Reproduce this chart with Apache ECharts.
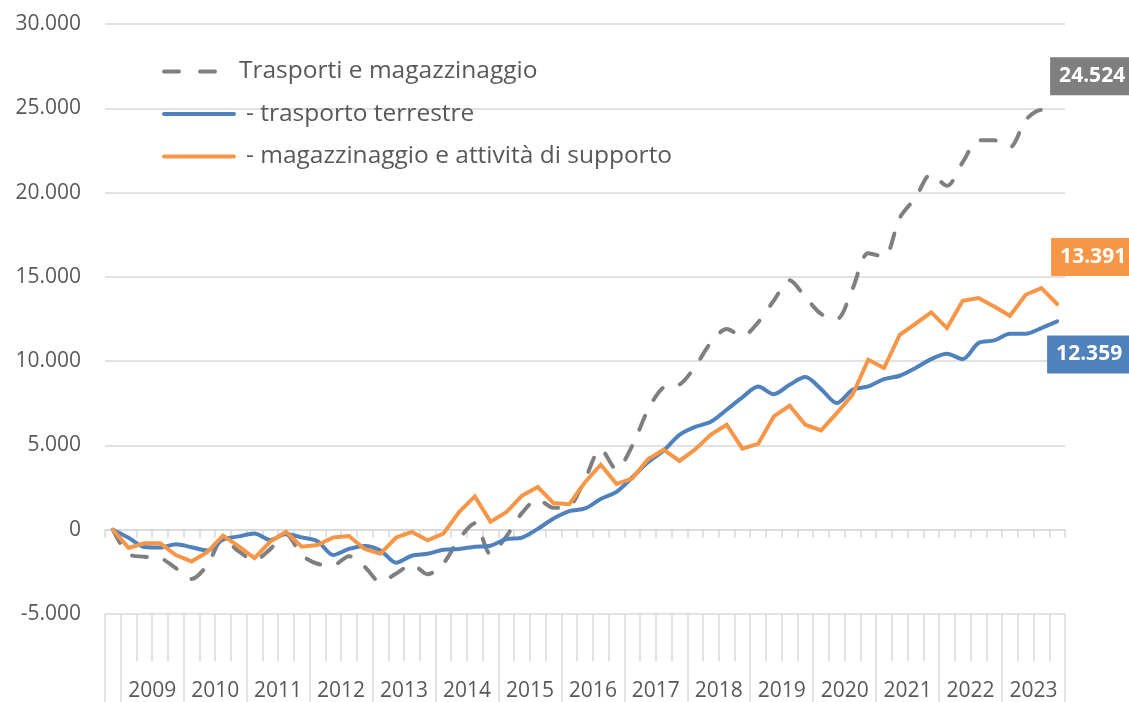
<!DOCTYPE html>
<html>
<head>
<meta charset="utf-8">
<script src="https://cdn.jsdelivr.net/npm/echarts@6/dist/echarts.min.js"></script>
<style>
html,body{margin:0;padding:0;background:#fff;}
#chart{width:1129px;height:702px;}
</style>
</head>
<body>
<div id="chart"></div>
<script>
// ---- data ----
const years = ['2009','2010','2011','2012','2013','2014','2015','2016','2017','2018','2019','2020','2021','2022','2023'];
const quarters = ['I','II','III','IV'];
const categories = ['IV 2008'];
years.forEach(function (y) { quarters.forEach(function (q) { categories.push(q + ' ' + y); }); });

const seriesNames = ['Trasporti e magazzinaggio', '- trasporto terrestre', '- magazzinaggio e attività di supporto'];

const trasporti = [0,-1450,-1600,-1680,-2280,-2920,-2100,-550,-1290,-1800,-1150,-270,-1500,-2020,-2100,-1570,-2200,-3100,-2600,-2076,-2640,-2000,-550,380,-1450,-400,1000,1800,1300,1400,3000,4780,3580,4980,7100,8450,8600,9680,11100,11900,11500,12300,13600,14800,13800,12800,12500,14300,16400,16200,18500,19700,21100,20400,21800,23100,23100,22700,24300,24900,24524];
const terrestre = [0,-480,-1030,-1060,-860,-1040,-1230,-590,-395,-220,-610,-260,-455,-680,-1500,-1140,-960,-1230,-1960,-1542,-1430,-1186,-1140,-1010,-949,-553,-465,50,660,1100,1260,1820,2240,3100,4000,4700,5630,6100,6400,7117,7850,8500,8040,8600,9055,8342,7513,8303,8500,8935,9133,9588,10122,10438,10122,11072,11230,11625,11625,11961,12359];
const magazzinaggio = [0,-1080,-810,-810,-1500,-1880,-1325,-345,-990,-1680,-710,-120,-1010,-910,-455,-375,-1140,-1420,-465,-130,-633,-237,1050,1977,470,1040,2017,2530,1581,1510,2820,3855,2720,3035,4180,4745,4080,4765,5650,6228,4810,5090,6721,7355,6228,5892,6919,8007,10083,9588,11565,12218,12890,11961,13582,13740,13246,12692,13938,14333,13391];

const yMin = -5000, yMax = 30000, yStep = 5000;

// ---- helpers ----
function fmt(v) {
  const s = String(Math.abs(v)).replace(/\B(?=(\d{3})+(?!\d))/g, '.');
  return (v < 0 ? '-' : '') + s;
}
const FONT = '"Open Sans", "Liberation Sans", sans-serif';
const GRID_COLOR = '#d9d9d9';
const TEXT_COLOR = '#595959';
const COLORS = ['#7f7f7f', '#4f81bd', '#f79646'];

function endMark(values, color, offset) {
  const last = values.length - 1;
  return {
    symbol: 'rect',
    symbolSize: 1,
    silent: true,
    itemStyle: { color: 'rgba(0,0,0,0)' },
    label: {
      show: true,
      position: 'inside',
      offset: offset,
      formatter: function (p) { return fmt(p.value); },
      backgroundColor: color,
      color: '#fff',
      fontWeight: 'bold',
      fontFamily: FONT,
      fontSize: 21,
      lineHeight: 26,
      padding: [6, 9, 6, 9]
    },
    data: [{ coord: [last, values[last]], value: values[last] }]
  };
}

const chart = echarts.init(document.getElementById('chart'), null, { renderer: 'canvas' });
const bandW = 960 / categories.length;

chart.setOption({
  animation: false,
  backgroundColor: '#fff',
  color: COLORS,
  textStyle: { fontFamily: FONT },
  grid: { left: 105, right: 64, top: 24, bottom: 88, containLabel: false },
  legend: {
    orient: 'vertical',
    left: 162,
    top: 59,
    padding: 0,
    itemWidth: 70,
    itemHeight: 20,
    itemGap: 17.5,
    itemStyle: { opacity: 0 },
    lineStyle: { width: 4, cap: 'round' },
    textStyle: { color: TEXT_COLOR, fontSize: 24.5, fontFamily: FONT, lineHeight: 20 },
    data: [
      { name: seriesNames[0], lineStyle: { width: 4, type: [15, 21], cap: 'round' } },
      { name: seriesNames[1], textStyle: { padding: [0, 0, 0, 7] } },
      { name: seriesNames[2], textStyle: { padding: [0, 0, 0, 7] } }
    ]
  },
  xAxis: [
    {
      type: 'category',
      data: categories,
      boundaryGap: true,
      axisLine: { show: true, onZero: true, lineStyle: { color: GRID_COLOR, width: 1.5 } },
      axisTick: { show: true, interval: 0, length: 8, lineStyle: { color: GRID_COLOR, width: 1.5 } },
      axisLabel: { show: false },
      splitLine: { show: false }
    },
    {
      type: 'category',
      data: categories,
      boundaryGap: true,
      position: 'bottom',
      axisLine: { show: false, onZero: false },
      axisTick: { show: true, interval: 0, length: 47, lineStyle: { color: GRID_COLOR, width: 1.5 } },
      axisLabel: { show: false },
      splitLine: { show: false }
    },
    {
      type: 'category',
      data: categories,
      boundaryGap: true,
      position: 'bottom',
      axisLine: { show: false, onZero: false },
      axisTick: {
        show: true,
        interval: function (i) { return i === 0 || i % 4 === 1; },
        length: 90,
        lineStyle: { color: GRID_COLOR, width: 1.5 }
      },
      axisLabel: {
        show: true,
        interval: function (i) { return i % 4 === 2; },
        formatter: function (v) { return v.split(' ')[1]; },
        color: TEXT_COLOR,
        fontSize: 21,
        fontFamily: FONT,
        margin: 67,
        padding: [0, 0, 0, bandW]
      },
      splitLine: { show: false }
    }
  ],
  yAxis: {
    type: 'value',
    min: yMin,
    max: yMax,
    interval: yStep,
    axisLine: { show: false },
    axisTick: { show: false },
    axisLabel: {
      color: TEXT_COLOR,
      fontSize: 21,
      fontFamily: FONT,
      margin: 24,
      formatter: fmt
    },
    splitLine: { show: true, lineStyle: { color: GRID_COLOR, width: 1.5 } }
  },
  series: [
    {
      name: seriesNames[0],
      type: 'line',
      data: trasporti,
      symbol: 'none',
      smooth: 0.3,
      lineStyle: { color: COLORS[0], width: 4, type: [15, 18], cap: 'round', join: 'round' },
      z: 3,
      markPoint: endMark(trasporti, COLORS[0], [35, -40])
    },
    {
      name: seriesNames[1],
      type: 'line',
      data: terrestre,
      symbol: 'none',
      smooth: 0.3,
      lineStyle: { color: COLORS[1], width: 4, cap: 'round', join: 'round' },
      z: 4,
      markPoint: endMark(terrestre, COLORS[1], [32, 33])
    },
    {
      name: seriesNames[2],
      type: 'line',
      data: magazzinaggio,
      symbol: 'none',
      lineStyle: { color: COLORS[2], width: 4, cap: 'round', join: 'miter' },
      z: 5,
      markPoint: endMark(magazzinaggio, COLORS[2], [36, -47])
    }
  ]
});
</script>
</body>
</html>
